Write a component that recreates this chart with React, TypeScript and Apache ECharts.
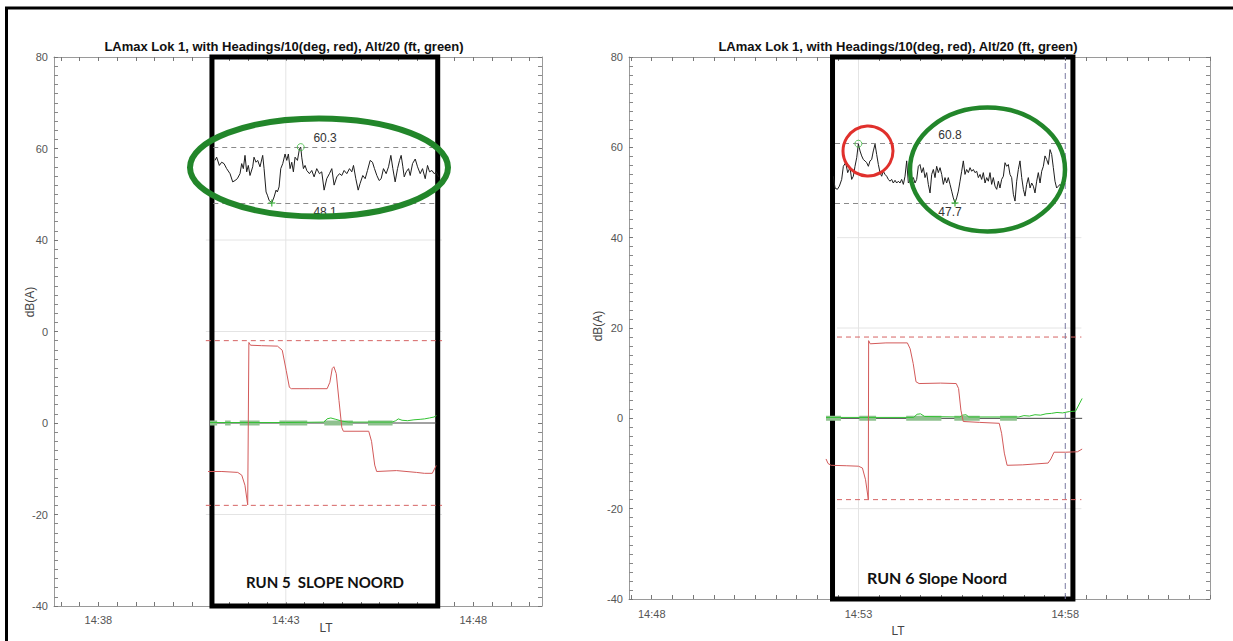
import React, { useEffect, useRef } from "react";
import * as echarts from "echarts";

// ---------- shared text ----------
const TITLE = "LAmax Lok 1, with Headings/10(deg, red), Alt/20 (ft, green)";
const Y_NAME = "dB(A)";
const X_NAME = "LT";

// ---------- RUN 5 (left panel) : times are seconds after T0 ----------
const RUN5_T0 = 14 * 3600 + 38 * 60; // 14:38:00
const RUN5_X_RANGE = [-71, 710];
const RUN5_X_LABELS = [0, 300, 600]; // 14:38, 14:43, 14:48
const RUN5_Y_LABELS = ["-40", "-20", "0", "0", "40", "60", "80"];
const RUN5_NAME = "RUN 5  SLOPE NOORD";
const RUN5_BOX = [181.8, 543.1];
const RUN5_LEVEL_SPAN = [183.9, 541.8];
const RUN5_MAXV = 60.3;
const RUN5_MINV = 48.1;
const RUN5_MAX_AT = [323.9, 60.3];
const RUN5_MIN_AT = [277.5, 48.1];
const RUN5_LAMAX = [
  [186.6, 57.4], [189.3, 58.1], [193.6, 56.3], [197.3, 57.0], [201.1, 56.7], [205.3, 55.6], [210.7, 54.5],
  [215.0, 52.7], [218.7, 53.0], [222.4, 53.4], [226.7, 54.5], [229.4, 56.7], [232.0, 55.6], [234.7, 58.5],
  [237.4, 54.9], [240.0, 56.3], [242.7, 54.1], [247.0, 56.0], [249.1, 58.1], [252.3, 57.0], [255.0, 57.4],
  [258.7, 56.0], [263.0, 58.5], [265.2, 55.6], [268.4, 50.5], [270.5, 49.8], [273.2, 48.7], [275.8, 48.3],
  [277.5, 48.1], [281.2, 49.4], [284.4, 50.9], [286.5, 50.5], [289.2, 51.6], [291.9, 55.6], [295.1, 56.7],
  [298.8, 58.8], [301.5, 57.4], [304.1, 58.8], [306.8, 55.6], [309.5, 57.0], [312.1, 54.9], [314.8, 58.1],
  [318.6, 57.4], [321.8, 59.9], [323.9, 60.3], [325.5, 58.1], [328.2, 55.6], [330.8, 56.3], [333.5, 55.2],
  [337.8, 54.5], [341.5, 55.2], [345.3, 53.8], [349.5, 55.6], [353.8, 54.5], [357.5, 54.9], [361.3, 50.9],
  [365.5, 53.4], [369.8, 54.5], [373.6, 55.6], [377.3, 52.0], [381.6, 53.8], [385.9, 54.5], [389.6, 54.1],
  [393.3, 55.2], [397.6, 54.5], [401.9, 55.6], [405.6, 54.9], [408.3, 56.3], [412.0, 53.4], [415.8, 50.9],
  [419.0, 52.4], [423.2, 54.1], [427.0, 53.4], [430.7, 55.2], [435.0, 57.4], [438.7, 57.0], [441.9, 55.6],
  [445.7, 54.1], [449.4, 53.0], [452.6, 53.4], [456.3, 55.6], [460.6, 54.5], [464.4, 56.0], [468.1, 58.5],
  [471.3, 55.6], [475.0, 52.7], [478.8, 55.6], [482.0, 57.4], [484.6, 58.5], [487.3, 56.0], [489.5, 53.8],
  [492.7, 54.9], [496.4, 55.6], [499.1, 54.1], [502.8, 56.7], [507.1, 57.7], [510.8, 56.0], [515.1, 54.5],
  [518.8, 55.6], [523.1, 53.4], [526.8, 56.3], [530.0, 54.9], [533.8, 55.2], [537.5, 54.5], [540.7, 54.9],
  [544.5, 53.8],
];
const RUN5_HEADING = [
  [175.5, -10.6], [197.7, -10.6], [223.1, -10.8], [229.5, -11.4], [234.6, -13.6], [239.0, -17.9],
  [240.9, 17.6], [243.5, 17.0], [261.2, 16.9], [286.6, 16.8], [294.3, 15.9], [300.6, 11.5], [305.7, 7.8],
  [308.9, 7.5], [337.5, 7.5], [366.1, 7.5], [370.5, 8.9], [374.3, 11.9], [376.9, 12.3], [380.7, 10.8],
  [385.1, 4.9], [389.6, -1.0], [392.1, -1.8], [432.7, -1.8], [437.2, -4.0], [442.3, -9.2], [445.4, -10.6],
  [477.2, -10.4], [509.0, -10.8], [521.7, -11.0], [534.4, -11.0], [540.7, -9.3],
];
const RUN5_HEADING_LIMIT = 18;
const RUN5_HEADING_SPAN = [172, 550];
const RUN5_ZERO_SPAN = [178.7, 540.7];
const RUN5_ALT = [
  [178.7, 0.1], [300, 0.1], [361, 0.2], [366, 0.9], [372, 1.1], [380, 0.8], [390, 0.4], [400, 0.2],
  [470, 0.2], [476, 0.5], [480, 0.9], [486, 0.6], [495, 0.5], [505, 0.7], [515, 0.8], [522, 0.9],
  [530, 1.1], [537, 1.3], [541, 1.6],
];
const RUN5_ALT_BANDS = [
  [178.7, 190.1], [202.8, 211.7], [226.3, 258.1], [289.8, 334.3], [361.6, 407.3], [431.5, 470.9],
];

// ---------- RUN 6 (right panel) : times are seconds after T0 ----------
const RUN6_T0 = 14 * 3600 + 53 * 60; // 14:53:00
const RUN6_X_RANGE = [-333, 510];
const RUN6_X_LABELS = [-300, 0, 300]; // 14:48, 14:53, 14:58
const RUN6_Y_LABELS = ["-40", "-20", "0", "20", "40", "60", "80"];
const RUN6_NAME = "RUN 6 Slope Noord";
const RUN6_BOX = [-37.7, 311.1];
const RUN6_LEVEL_SPAN = [-34.1, 299.6];
const RUN6_MAXV = 60.8;
const RUN6_MINV = 47.7;
const RUN6_MAX_AT = [-0.2, 60.8];
const RUN6_MIN_AT = [140.0, 47.7];
const RUN6_MARKER_TIME = 300; // 14:58 dashed line
const RUN6_LAMAX = [
  [-36.5, 53.6], [-34.1, 51.0], [-30.7, 50.7], [-27.8, 51.4], [-24.4, 52.9], [-22.0, 55.8], [-18.6, 56.6],
  [-15.7, 54.4], [-12.3, 55.5], [-9.9, 52.9], [-7.5, 53.6], [-5.1, 55.8], [-2.6, 57.7], [-0.2, 60.8],
  [2.2, 59.2], [4.6, 58.1], [7.0, 57.3], [9.4, 57.0], [11.9, 56.6], [14.3, 55.8], [16.7, 57.0], [19.1, 57.3],
  [21.5, 59.2], [24.0, 60.7], [26.4, 58.4], [28.8, 56.2], [31.2, 54.4], [33.6, 53.6], [36.0, 54.7],
  [38.5, 54.0], [40.9, 53.6], [43.3, 52.9], [45.7, 52.5], [48.1, 52.9], [50.5, 52.1], [53.0, 52.7],
  [55.4, 52.1], [57.8, 52.5], [60.2, 52.1], [62.6, 52.9], [65.1, 51.8], [67.5, 53.6], [69.9, 57.0],
  [72.3, 52.1], [74.7, 52.5], [77.2, 52.9], [79.6, 53.3], [82.0, 52.1], [84.4, 52.9], [86.8, 55.8],
  [89.2, 56.2], [91.7, 54.4], [94.1, 55.5], [96.5, 53.3], [98.9, 54.4], [101.3, 51.8], [103.8, 49.9],
  [106.2, 54.0], [108.6, 55.1], [111.0, 53.3], [113.4, 55.8], [115.8, 54.4], [118.3, 55.5], [120.7, 54.0],
  [123.1, 51.8], [125.5, 53.3], [127.9, 52.1], [130.3, 53.3], [132.8, 51.8], [135.2, 50.3], [137.6, 48.8],
  [140.0, 47.7], [142.4, 48.8], [144.9, 50.3], [147.3, 52.5], [149.7, 54.7], [152.1, 57.0], [154.5, 54.0],
  [156.9, 55.1], [159.4, 54.4], [161.8, 55.5], [164.2, 54.7], [166.6, 55.1], [169.0, 54.4], [171.5, 54.7],
  [173.9, 53.3], [176.3, 54.0], [178.7, 52.9], [181.1, 54.4], [183.6, 52.1], [186.0, 53.3], [188.4, 52.5],
  [190.8, 54.4], [193.2, 51.8], [195.6, 53.3], [198.1, 51.4], [200.5, 50.7], [202.9, 52.5], [205.3, 51.0],
  [207.7, 52.9], [210.2, 53.6], [212.6, 56.6], [215.0, 55.8], [217.4, 56.2], [219.8, 54.0], [222.2, 53.3],
  [224.7, 49.6], [227.1, 48.1], [229.5, 52.5], [231.9, 55.1], [234.3, 57.0], [236.8, 53.3], [239.2, 50.7],
  [241.6, 49.2], [244.0, 51.8], [246.4, 53.3], [248.9, 51.0], [251.3, 52.1], [253.7, 51.4], [256.1, 49.9],
  [258.5, 52.5], [260.9, 54.4], [263.4, 52.1], [265.8, 54.7], [268.2, 55.8], [270.6, 58.1], [273.0, 57.3],
  [275.5, 56.2], [277.9, 59.5], [280.3, 58.4], [282.7, 55.5], [285.1, 52.5], [287.5, 51.0], [290.0, 51.4],
  [292.4, 51.8], [294.8, 50.7],
];
const RUN6_HEADING = [
  [-47.1, -9.0], [-44.2, -10.0], [-39.7, -10.4], [-17.0, -10.5], [0, -10.6], [5.7, -11.0], [10.2, -13.6],
  [14.2, -17.9], [14.7, 17.2], [17.0, 16.5], [39.7, 16.7], [70.9, 16.7], [74.9, 15.4], [79.4, 12.1],
  [83.4, 8.1], [87.9, 7.7], [119.1, 7.8], [141.8, 7.7], [145.2, 6.6], [148.6, 1.8], [152.0, -0.7],
  [175.9, -0.9], [204.2, -1.1], [207.6, -3.3], [211.6, -7.7], [215.6, -10.4], [238.3, -10.3],
  [275.1, -9.9], [279.1, -9.0], [283.7, -7.5], [300.7, -7.5], [317.7, -7.4], [324.5, -6.8],
];
const RUN6_HEADING_LIMIT = 18;
const RUN6_HEADING_SPAN = [-31.2, 323.4];
const RUN6_ZERO_SPAN = [-47.1, 324.5];
const RUN6_ALT = [
  [-47.1, 0.2], [80, 0.2], [85, 0.9], [90, 1.0], [96, 0.4], [147, 0.3], [151, 0.7], [156, 0.8], [160, 0.3],
  [232.6, 0.3], [240, 0.6], [248, 0.5], [256, 0.8], [264, 0.7], [272, 1.0], [280, 1.1], [288, 1.3],
  [296, 1.2], [306, 1.5], [315, 1.6], [324.5, 4.4],
];
const RUN6_ALT_BANDS = [
  [-47.1, -25.5], [1.1, 25.5], [69.2, 120.3], [139.0, 175.9], [205.4, 229.8],
];

const Y_MIN = -40;
const Y_MAX = 80;
const Y_STEP = 20;
const GRID_Y_LEVELS = [40, 20, -20];

const LABEL_COLOR = "#555555";
const AXIS_COLOR = "#9a9a9a";
const FONT = "Liberation Sans, Arial, sans-serif";

function hhmm(sec: number) {
  const h = Math.floor(sec / 3600);
  const m = Math.round((sec % 3600) / 60);
  return `${h}:${m < 10 ? "0" : ""}${m}`;
}

function tickValues(t0: number, range: number[]) {
  const out: number[] = [];
  const start = Math.ceil((t0 + range[0]) / 30) * 30;
  for (let v = start; v <= t0 + range[1]; v += 30) out.push(v);
  return out;
}

type Panel = {
  t0: number; xr: number[]; xl: number[]; yl: string[]; box: number[]; level: number[];
  maxv: number; minv: number; maxAt: number[]; minAt: number[]; lamax: number[][];
  heading: number[][]; hlim: number; hspan: number[]; zspan: number[]; alt: number[][];
  bands: number[][]; vline?: number; gridX: number;
};

const PANELS: Panel[] = [
  {
    t0: RUN5_T0, xr: RUN5_X_RANGE, xl: RUN5_X_LABELS, yl: RUN5_Y_LABELS, box: RUN5_BOX,
    level: RUN5_LEVEL_SPAN, maxv: RUN5_MAXV, minv: RUN5_MINV, maxAt: RUN5_MAX_AT, minAt: RUN5_MIN_AT,
    lamax: RUN5_LAMAX, heading: RUN5_HEADING, hlim: RUN5_HEADING_LIMIT, hspan: RUN5_HEADING_SPAN,
    zspan: RUN5_ZERO_SPAN, alt: RUN5_ALT, bands: RUN5_ALT_BANDS, gridX: 300,
  },
  {
    t0: RUN6_T0, xr: RUN6_X_RANGE, xl: RUN6_X_LABELS, yl: RUN6_Y_LABELS, box: RUN6_BOX,
    level: RUN6_LEVEL_SPAN, maxv: RUN6_MAXV, minv: RUN6_MINV, maxAt: RUN6_MAX_AT, minAt: RUN6_MIN_AT,
    lamax: RUN6_LAMAX, heading: RUN6_HEADING, hlim: RUN6_HEADING_LIMIT, hspan: RUN6_HEADING_SPAN,
    zspan: RUN6_ZERO_SPAN, alt: RUN6_ALT, bands: RUN6_ALT_BANDS, vline: RUN6_MARKER_TIME, gridX: 0,
  },
];

function buildOption() {
  const grids = [
    { left: 54, top: 57, width: 488, height: 549 },
    { left: 629, top: 57, width: 581, height: 542 },
  ];
  const xAxis: any[] = [];
  const yAxis: any[] = [];
  const series: any[] = [];

  PANELS.forEach((p, gi) => {
    const min = p.t0 + p.xr[0];
    const max = p.t0 + p.xr[1];
    const ticks = tickValues(p.t0, p.xr);
    const labels = p.xl.map((v) => p.t0 + v);
    const common = {
      type: "value", gridIndex: gi, min, max,
      axisLine: { show: true, onZero: false, lineStyle: { color: AXIS_COLOR, width: 1 } },
      splitLine: { show: false },
    };
    xAxis.push({
      ...common, position: "bottom",
      axisTick: { show: true, inside: true, length: 4, customValues: ticks, lineStyle: { color: "#777" } },
      axisLabel: {
        show: true, customValues: labels, formatter: (v: number) => hhmm(v),
        color: LABEL_COLOR, fontSize: 11, fontFamily: FONT, margin: gi === 0 ? 8 : 9,
      },
    });
    xAxis.push({
      ...common, position: "top",
      axisTick: { show: true, inside: true, length: 4, customValues: ticks, lineStyle: { color: "#777" } },
      axisLabel: { show: false },
    });
    const ycommon = {
      type: "value", gridIndex: gi, min: Y_MIN, max: Y_MAX, interval: Y_STEP,
      axisLine: { show: true, onZero: false, lineStyle: { color: AXIS_COLOR, width: 1 } },
      axisTick: { show: true, inside: true, length: 4, lineStyle: { color: "#777" } },
      minorTick: { show: true, splitNumber: 10, length: 4, lineStyle: { color: "#888" } },
      splitLine: { show: false },
    };
    yAxis.push({
      ...ycommon, position: "left",
      axisLabel: {
        show: true, color: LABEL_COLOR, fontSize: 11, fontFamily: FONT, margin: 6,
        formatter: (v: number) => {
          const s = p.yl[Math.round((v - Y_MIN) / Y_STEP)];
          return s === undefined ? String(v) : s;
        },
      },
    });
    yAxis.push({ ...ycommon, position: "right", axisLabel: { show: false } });

    const xi = gi * 2;
    const yi = gi * 2;
    const T = (d: number[][]) => d.map(([t, v]) => [p.t0 + t, v]);
    const seg = (a: number, b: number, v: number, style: any, z: number) => ({
      type: "line", xAxisIndex: xi, yAxisIndex: yi, z,
      data: [[p.t0 + a, v], [p.t0 + b, v]], symbol: "none", silent: true, lineStyle: style,
    });

    // faint grid lines
    GRID_Y_LEVELS.forEach((lv) => {
      series.push(seg(p.hspan[0], p.hspan[1], lv, { color: "#e4e4e4", width: 1 }, 0));
    });
    series.push({
      type: "line", xAxisIndex: xi, yAxisIndex: yi, z: 0,
      data: [[p.t0 + p.gridX, Y_MIN], [p.t0 + p.gridX, Y_MAX]],
      symbol: "none", silent: true, lineStyle: { color: "#e4e4e4", width: 1 },
    });
    // zero line
    series.push(seg(p.zspan[0], p.zspan[1], 0, { color: "#444", width: 1 }, 1));
    // heading limits
    const redDash = { color: "#d66464", width: 1, type: [5, 4] };
    series.push(seg(p.hspan[0], p.hspan[1], p.hlim, redDash, 2));
    series.push(seg(p.hspan[0], p.hspan[1], -p.hlim, redDash, 2));
    // altitude bands
    const bandData: any[] = [];
    p.bands.forEach(([a, b]) => {
      bandData.push([p.t0 + a, 0], [p.t0 + b, 0], [null, null]);
    });
    series.push({
      type: "line", xAxisIndex: xi, yAxisIndex: yi, z: 2, data: bandData, connectNulls: false,
      symbol: "none", lineStyle: { color: "#8fc18f", width: 5 }, silent: true,
    });
    series.push({
      type: "line", xAxisIndex: xi, yAxisIndex: yi, z: 3, data: T(p.alt),
      symbol: "none", lineStyle: { color: "#33c233", width: 1 }, silent: true,
    });
    // heading
    series.push({
      type: "line", xAxisIndex: xi, yAxisIndex: yi, z: 4, data: T(p.heading),
      symbol: "none", lineStyle: { color: "#d35a5a", width: 1 }, silent: true,
    });
    // LAmax
    const lvl = (v: number, pos: string) => [
      { coord: [p.t0 + p.level[0], v], label: { show: true, position: pos, formatter: v.toFixed(1) } },
      { coord: [p.t0 + p.level[1], v] },
    ];
    const mlData: any[] = [lvl(p.maxv, "insideMiddleTop"), lvl(p.minv, "insideMiddleBottom")];
    series.push({
      type: "line", xAxisIndex: xi, yAxisIndex: yi, z: 5, data: T(p.lamax),
      symbol: "none", lineStyle: { color: "#1e1e1e", width: 1 }, silent: true,
      markLine: {
        silent: true, symbol: ["none", "none"],
        label: { show: true, color: "#333", fontSize: 12, fontFamily: FONT, distance: 3 },
        lineStyle: { color: "#8a8a8a", width: 1, type: [5, 4] }, data: mlData,
      },
      markArea: {
        silent: true,
        itemStyle: { color: "rgba(0,0,0,0)", borderColor: "#000", borderWidth: 5 },
        data: [[{ coord: [p.t0 + p.box[0], Y_MAX] }, { coord: [p.t0 + p.box[1], Y_MIN] }]],
      },
    });
    if (p.vline !== undefined) {
      series.push({
        type: "line", xAxisIndex: xi, yAxisIndex: yi, z: 6,
        data: [[p.t0 + p.vline, Y_MIN], [p.t0 + p.vline, Y_MAX]],
        symbol: "none", silent: true,
        lineStyle: { color: "#7878a0", width: 1, type: [6, 4] },
      });
    }
    series.push({
      type: "scatter", xAxisIndex: xi, yAxisIndex: yi, z: 7,
      data: [[p.t0 + p.maxAt[0], p.maxAt[1]]], symbol: "circle", symbolSize: 7,
      itemStyle: { color: "rgba(0,0,0,0)", borderColor: "#3cb83c", borderWidth: 1 }, silent: true,
    });
    series.push({
      type: "scatter", xAxisIndex: xi, yAxisIndex: yi, z: 7,
      data: [[p.t0 + p.minAt[0], p.minAt[1]]], symbol: "path://M5,0L5,10M0,5L10,5", symbolSize: 7,
      itemStyle: { color: "rgba(0,0,0,0)", borderColor: "#3cb83c", borderWidth: 1.5 }, silent: true,
    });
  });

  const txt = (text: string, x: number, y: number, font: string, fill: string, rot = 0) => ({
    type: "text", x, y, rotation: rot, z: 100,
    style: { text, font, fill, textAlign: "center", textVerticalAlign: "middle" },
  });

  const graphic: any[] = [
    // outer picture frame (left and top edges only)
    {
      type: "polyline", z: 100,
      shape: { points: [[6.5, 641], [6.5, 8], [1233, 8]] },
      style: { stroke: "#000", lineWidth: 3, fill: "none" },
    },
    txt(TITLE, 284, 46, `bold 13px ${FONT}`, "#111"),
    txt(TITLE, 898, 46, `bold 13px ${FONT}`, "#111"),
    txt(Y_NAME, 30, 302, `12px ${FONT}`, "#444", Math.PI / 2),
    txt(Y_NAME, 598, 326, `12px ${FONT}`, "#444", Math.PI / 2),
    txt(X_NAME, 326, 628, `12px ${FONT}`, "#444"),
    txt(X_NAME, 898, 631, `12px ${FONT}`, "#444"),
    txt(RUN5_NAME, 325, 582, `bold 15px Lato, "Open Sans", sans-serif`, "#111"),
    txt(RUN6_NAME, 937, 577, `bold 16px Lato, "Open Sans", sans-serif`, "#111"),
    // hand-drawn annotations
    { type: "ellipse", z: 100, shape: { cx: 319, cy: 167.5, rx: 129, ry: 49 }, style: { fill: "none", stroke: "#22862a", lineWidth: 6 } },
    { type: "ellipse", z: 100, shape: { cx: 987.5, cy: 169.5, rx: 77.5, ry: 62 }, style: { fill: "none", stroke: "#22862a", lineWidth: 4.5 } },
    { type: "circle", z: 100, shape: { cx: 868, cy: 151, r: 25 }, style: { fill: "none", stroke: "#e0302c", lineWidth: 3 } },
  ];

  return {
    animation: false,
    backgroundColor: "#ffffff",
    grid: grids,
    xAxis,
    yAxis,
    series,
    graphic,
  };
}

export default function App() {
  const ref = useRef<HTMLDivElement>(null);
  useEffect(() => {
    if (!ref.current) return;
    const chart = echarts.init(ref.current, null, { renderer: "svg" });
    chart.setOption(buildOption() as any);
    return () => chart.dispose();
  }, []);
  return (
    <div
      ref={ref}
      style={{ position: "fixed", left: 0, top: 0, width: 1233, height: 641, background: "#fff" }}
    />
  );
}
